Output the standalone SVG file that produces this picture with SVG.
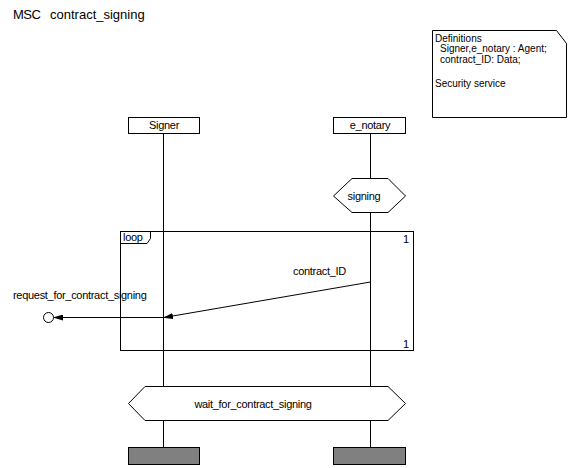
<svg xmlns="http://www.w3.org/2000/svg" width="570" height="468" viewBox="0 0 570 468">
<style>
text{font-family:"Liberation Sans",Arial,sans-serif;font-size:11px;fill:#000;letter-spacing:-0.3px}
.ln{stroke:#000;stroke-width:1;fill:none}
.bx{stroke:#000;stroke-width:1;fill:#fff}
.end{stroke:#000;stroke-width:1;fill:#808080}
.def{font-size:10px;letter-spacing:0px}
</style>
<defs>
<marker id="ah" markerWidth="10" markerHeight="6" refX="9" refY="3" orient="auto" markerUnits="userSpaceOnUse">
<path d="M0,0 L10,3 L0,6 Z" fill="#000"/>
</marker>
</defs>
<rect width="570" height="468" fill="#fff"/>
<text x="13" y="19" style="font-size:13px;letter-spacing:-0.5px">MSC</text>
<text x="50" y="19" style="font-size:13px;letter-spacing:0px">contract_signing</text>
<g id="definitions">
<path class="bx" d="M432.5,30.5 H556.5 L566.5,43.5 V117.5 H432.5 Z"/>
<text class="def" x="435" y="42">Definitions</text>
<text class="def" x="440" y="52">Signer,e_notary : Agent;</text>
<text class="def" x="440" y="62.5">contract_ID: Data;</text>
<text class="def" x="435" y="87">Security service</text>
</g>
<g id="lifelines">
<line class="ln" x1="163.5" y1="133" x2="163.5" y2="447"/>
<line class="ln" x1="370.5" y1="133" x2="370.5" y2="447"/>
</g>
<g id="Signer">
<rect class="bx" x="128.5" y="117.5" width="71" height="16"/>
<text x="164" y="129" text-anchor="middle">Signer</text>
<rect class="end" x="128.5" y="447.5" width="71" height="17"/>
</g>
<g id="e_notary">
<rect class="bx" x="333.5" y="117.5" width="72" height="16"/>
<text x="370" y="129" text-anchor="middle">e_notary</text>
<rect class="end" x="333.5" y="447.5" width="72" height="17"/>
</g>
<g id="signing">
<path class="bx" d="M333.5,196 L352,178.5 H388 L405.5,196 L388,212.5 H352 Z"/>
<text x="364" y="200" text-anchor="middle">signing</text>
</g>
<g id="loop">
<rect class="ln" x="120.5" y="231.5" width="293" height="119"/>
<path class="ln" d="M120.5,243.5 H147 L150.5,238.5 V231.5"/>
<text x="123" y="241">loop</text>
<text x="403" y="243">1</text>
<text x="403" y="348">1</text>
</g>
<g id="connectors">
<line class="ln" x1="370.5" y1="282" x2="164" y2="317.5" marker-end="url(#ah)"/>
<text x="293" y="275">contract_ID</text>
<line class="ln" x1="163.5" y1="317.5" x2="54" y2="317.5" marker-end="url(#ah)"/>
<circle class="bx" cx="48.5" cy="317.5" r="5" stroke-width="1.6"/>
<text x="13" y="299">request_for_contract_signing</text>
</g>
<g id="wait_for_contract_signing">
<path class="bx" d="M128.5,403.5 L145,386.5 H388 L405.5,403.5 L388,420.5 H145 Z"/>
<text x="253" y="408" text-anchor="middle">wait_for_contract_signing</text>
</g>
</svg>
